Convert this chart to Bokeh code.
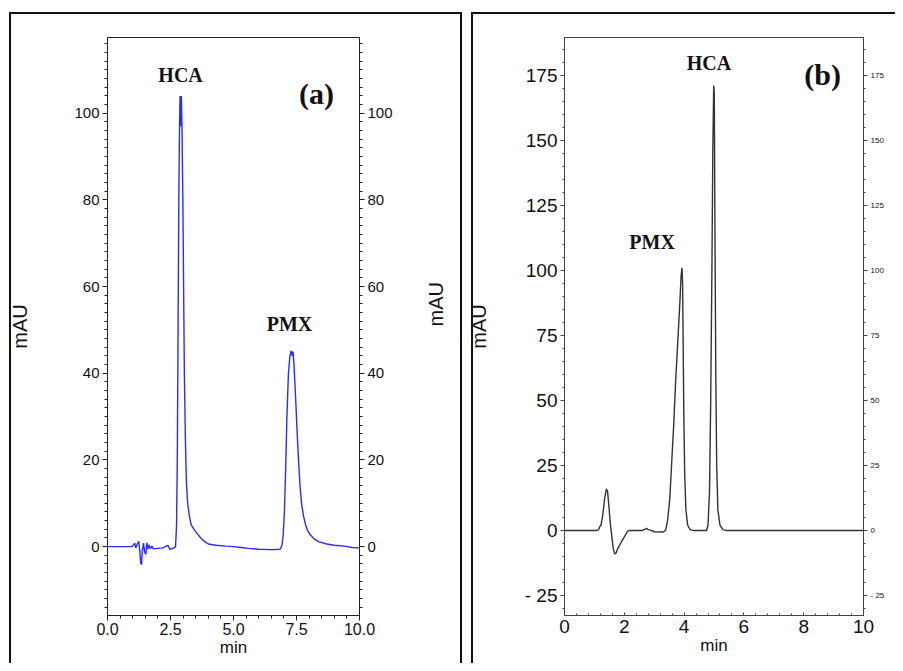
import math
from bokeh.plotting import figure
from bokeh.models import LinearAxis, SingleIntervalTicker, Label
from bokeh.layouts import row
from bokeh.embed import file_html
from bokeh.resources import INLINE

# ---------------- data: chromatogram (a) ----------------
time_a = [0.0, 0.95, 1.02, 1.08, 1.12, 1.18, 1.24, 1.28, 1.32, 1.35, 1.38, 1.43, 1.47, 1.52,
          1.56, 1.60, 1.64, 1.70, 1.76, 1.82, 2.0, 2.2, 2.33, 2.4, 2.47, 2.6, 2.7, 2.74,
          2.77, 2.80, 2.83, 2.86, 2.88, 2.90, 2.915, 2.93, 2.96, 2.99, 3.02, 3.05, 3.09,
          3.13, 3.18, 3.25, 3.32, 3.45, 3.56, 3.7, 3.85, 4.0, 4.3, 4.7, 5.0, 5.3, 5.6, 6.0,
          6.5, 6.85, 6.92, 6.97, 7.02, 7.07, 7.12, 7.18, 7.24, 7.29, 7.33, 7.36, 7.40, 7.46,
          7.52, 7.58, 7.64, 7.70, 7.78, 7.86, 7.95, 8.06, 8.2, 8.4, 8.7, 9.0, 9.4, 9.7, 10.0]
mau_a = [0.0, 0.0, 0.3, 0.8, -0.3, 0.6, 1.2, -1.0, -3.8, -4.2, -1.0, 0.8, -1.2, -1.8,
         0.9, -0.6, 0.4, -0.5, 0.1, -0.5, -0.4, -0.3, 0.1, 0.3, -0.6, -0.4, 0.0, 5.0,
         20.0, 50.0, 80.0, 98.0, 104.0, 101.0, 97.0, 104.0, 95.0, 80.0, 60.0, 40.0, 25.0,
         15.0, 10.0, 7.0, 5.0, 3.8, 3.0, 2.0, 1.2, 0.6, 0.3, 0.1, 0.0, -0.2, -0.4, -0.6,
         -0.7, -0.6, 0.2, 2.5, 8.0, 18.0, 30.0, 40.0, 44.0, 45.2, 44.0, 45.0, 42.0, 35.0,
         27.0, 20.0, 14.0, 10.0, 7.0, 5.0, 3.6, 2.6, 1.8, 1.1, 0.6, 0.3, 0.1, -0.2, -0.3]

# ---------------- data: chromatogram (b) ----------------
time_b = [0.0, 1.10, 1.15, 1.18, 1.22, 1.28, 1.34, 1.40, 1.44, 1.48, 1.53, 1.58, 1.63,
          1.68, 1.72, 1.78, 1.85, 1.92, 2.0, 2.1, 2.15, 2.6, 2.7, 2.75, 2.8, 2.9, 3.0,
          3.3, 3.38, 3.45, 3.52, 3.58, 3.65, 3.72, 3.80, 3.86, 3.90, 3.93, 3.95, 3.97,
          3.99, 4.02, 4.06, 4.12, 4.2, 4.3, 4.75, 4.80, 4.85, 4.89, 4.93, 4.96, 4.99,
          5.01, 5.03, 5.06, 5.09, 5.13, 5.2, 5.3, 5.4, 10.0]
mau_b = [0.0, 0.0, 0.5, 1.5, 2.0, 6.0, 12.0, 16.0, 15.0, 10.0, 3.0, -2.0, -7.0,
         -9.0, -8.8, -7.0, -5.5, -4.0, -2.5, -0.5, 0.0, 0.0, 0.5, 0.8, 0.3, 0.0, -0.5,
         -0.6, 0.0, 4.0, 12.0, 25.0, 40.0, 58.0, 75.0, 88.0, 98.0, 101.0, 95.0, 70.0,
         45.0, 22.0, 8.0, 2.0, 0.3, 0.0, 0.0, 2.0, 15.0, 50.0, 100.0, 145.0, 171.0,
         168.0, 120.0, 60.0, 25.0, 8.0, 2.0, 0.3, 0.0, 0.0]

peak_names_a = ["HCA", "PMX"]
peak_names_b = ["PMX", "HCA"]
panel_tags = ["(a)", "(b)"]
x_title = "min"
y_title = "mAU"

SANS = "Liberation Sans"
SERIF = "Liberation Serif"
INK = "#111111"


def box_lines(lines):
    """CSS background lines (the black panel frames around each chart)."""
    n = len(lines)
    return {
        "background-image": ", ".join(["linear-gradient(#111,#111)"] * n),
        "background-position": ", ".join(f"{x}px {y}px" for x, y, w, h in lines),
        "background-size": ", ".join(f"{w}px {h}px" for x, y, w, h in lines),
        "background-repeat": "no-repeat",
    }


def style_axis(ax, size, color="#222222"):
    ax.axis_line_color = color
    ax.major_tick_line_color = color
    ax.minor_tick_line_color = color
    ax.major_label_text_font = SANS
    ax.major_label_text_font_size = size
    ax.major_label_text_color = INK
    ax.axis_label_text_font = SANS
    ax.axis_label_text_font_style = "normal"
    ax.axis_label_text_color = INK


def add_text(p, x, y, text, size):
    p.add_layout(Label(x=x, y=y, text=text, text_font=SERIF, text_font_style="bold",
                       text_font_size=size, text_align="center",
                       text_baseline="middle", text_color=INK))


# ======================= panel (a) =======================
p1 = figure(width=464, height=663, output_backend="svg", toolbar_location=None,
            x_range=(0, 10), y_range=(-15.9, 117.5),
            min_border_left=107, min_border_right=105, min_border_top=34,
            min_border_bottom=41,
            styles=box_lines([(9, 12, 2, 651), (9, 12, 453, 2), (460, 12, 2, 651)]))
p1.border_fill_color = None
p1.xgrid.visible = False
p1.ygrid.visible = False
p1.outline_line_color = "#222222"
p1.outline_line_width = 1

p1.line(time_a, mau_a, line_color="#2b2bff", line_width=1.4)

xa = p1.xaxis[0]
xa.ticker = SingleIntervalTicker(interval=2.5, num_minor_ticks=5)
xa.major_tick_out = 5
xa.major_tick_in = 0
xa.minor_tick_out = 3
xa.minor_tick_in = 0
xa.major_label_standoff = 2
style_axis(xa, "16px")
xa.major_label_overrides = {0: "0.0", 2.5: "2.5", 5: "5.0", 7.5: "7.5", 10: "10.0"}
xa.axis_label = x_title
xa.axis_label_text_font_size = "17px"
xa.axis_label_standoff = 0

ya = p1.yaxis[0]
ya.ticker = SingleIntervalTicker(interval=20, num_minor_ticks=10)
ya.major_tick_out = 5
ya.major_tick_in = 0
ya.minor_tick_out = 3
ya.minor_tick_in = 0
ya.major_label_standoff = 3
style_axis(ya, "15px")
ya.axis_label = y_title
ya.axis_label_text_font_size = "20px"
ya.axis_label_standoff = 40

ya_r = LinearAxis(ticker=SingleIntervalTicker(interval=20, num_minor_ticks=10))
ya_r.major_tick_out = 5
ya_r.major_tick_in = 0
ya_r.minor_tick_out = 3
ya_r.minor_tick_in = 0
ya_r.major_label_standoff = 3
style_axis(ya_r, "15px")
ya_r.axis_label = y_title
ya_r.axis_label_text_font_size = "20px"
ya_r.axis_label_standoff = 40
ya_r.axis_label_orientation = math.pi / 2
ya_r.axis_label_text_align = "center"
p1.add_layout(ya_r, "right")

add_text(p1, 2.9, 108.8, peak_names_a[0], "20px")
add_text(p1, 7.22, 51.3, peak_names_a[1], "20px")
add_text(p1, 8.29, 104.5, panel_tags[0], "30px")

# ======================= panel (b) =======================
p2 = figure(width=431, height=663, output_backend="svg", toolbar_location=None,
            x_range=(0, 10), y_range=(-32.7, 189.5),
            min_border_left=99, min_border_right=32, min_border_top=37,
            min_border_bottom=48,
            styles=box_lines([(7, 12, 2, 651), (7, 12, 424, 2)]))
p2.border_fill_color = None
p2.xgrid.visible = False
p2.ygrid.visible = False
p2.outline_line_color = "#444444"
p2.outline_line_width = 1

p2.line(time_b, mau_b, line_color="#333333", line_width=1.4)

xb = p2.xaxis[0]
xb.ticker = SingleIntervalTicker(interval=2, num_minor_ticks=5)
xb.major_tick_out = 0
xb.major_tick_in = 3
xb.minor_tick_out = 0
xb.minor_tick_in = 2
xb.major_label_standoff = 4
style_axis(xb, "19px", "#444444")
xb.axis_label = x_title
xb.axis_label_text_font_size = "17px"
xb.axis_label_standoff = 0

yb = p2.yaxis[0]
yb.ticker = SingleIntervalTicker(interval=25, num_minor_ticks=5)
yb.major_tick_out = 4
yb.major_tick_in = 0
yb.minor_tick_out = 2
yb.minor_tick_in = 0
yb.major_label_standoff = 3
style_axis(yb, "19px", "#444444")
yb.major_label_overrides = {-25: "- 25"}
yb.axis_label = y_title
yb.axis_label_text_font_size = "20px"
yb.axis_label_standoff = 32

yb_r = LinearAxis(ticker=SingleIntervalTicker(interval=25, num_minor_ticks=5))
yb_r.major_tick_out = 4
yb_r.major_tick_in = 0
yb_r.minor_tick_out = 2
yb_r.minor_tick_in = 0
yb_r.major_label_standoff = 3
style_axis(yb_r, "8px", "#444444")
yb_r.major_label_overrides = {-25: "- 25"}
p2.add_layout(yb_r, "right")

add_text(p2, 4.83, 179.6, peak_names_b[1], "20px")
add_text(p2, 2.93, 110.8, peak_names_b[0], "20px")
add_text(p2, 8.63, 175.4, panel_tags[1], "30px")

layout = row(p1, p2, spacing=0)
open("out.html", "w").write(file_html(layout, INLINE))
